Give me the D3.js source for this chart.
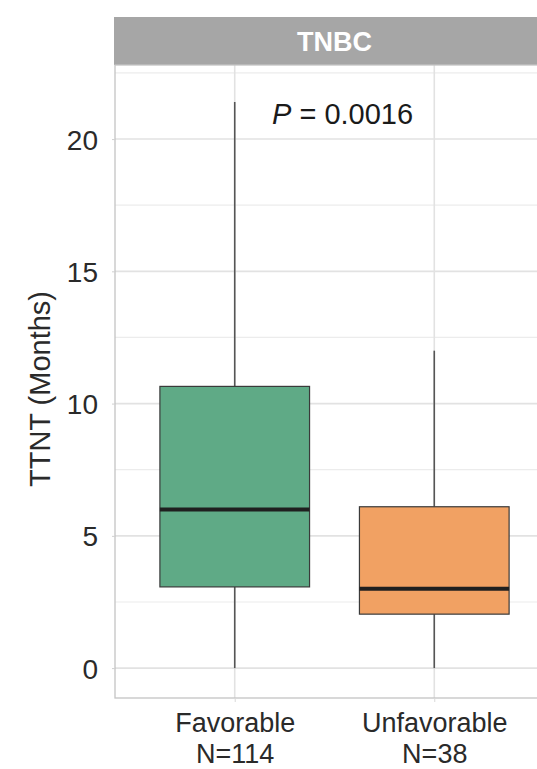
<!DOCTYPE html>
<html>
<head>
<meta charset="utf-8">
<script src="https://cdn.jsdelivr.net/npm/d3@7"></script>
<style>
  html, body { margin: 0; padding: 0; background: #fff; }
  svg { display: block; font-family: "Liberation Sans", Arial, sans-serif; }
</style>
</head>
<body>
<svg id="chart" width="537" height="769"></svg>
<script>
// Time to next treatment by response group (TNBC)
const categories = ["Favorable", "Unfavorable"];
const groupN = [114, 38];
const whiskerLow = [0, 0];
const quartile1 = [3.07, 2.04];
const medians = [6.0, 3.0];
const quartile3 = [10.65, 6.1];
const whiskerHigh = [21.4, 12.0];
const fillColors = ["#5faa86", "#f1a163"];
const yTicks = [0, 5, 10, 15, 20];
const yMinorTicks = [2.5, 7.5, 12.5, 17.5, 22.5];
const panelTitle = "TNBC";
const pValueText = "0.0016";

const svg = d3.select("#chart");
const panel = { left: 115, right: 554, top: 65, bottom: 698 };

const x = d3.scalePoint()
  .domain(categories)
  .range([panel.left, panel.right])
  .padding(0.6);
const boxWidth = x.step() * 0.75;

const y = d3.scaleLinear()
  .domain([-1.13, 22.8])
  .range([panel.bottom, panel.top]);

// strip header
svg.append("rect")
  .attr("x", panel.left - 1).attr("y", 17)
  .attr("width", panel.right - panel.left + 2).attr("height", panel.top - 17)
  .attr("fill", "#a6a6a6");
svg.append("text")
  .attr("x", (panel.left + panel.right) / 2).attr("y", 51)
  .attr("text-anchor", "middle")
  .attr("fill", "#ffffff")
  .attr("font-weight", "bold")
  .attr("font-size", 27)
  .text(panelTitle);

// panel gridlines
const grid = svg.append("g");
grid.selectAll("line.minor").data(yMinorTicks).join("line")
  .attr("x1", panel.left).attr("x2", panel.right)
  .attr("y1", d => y(d)).attr("y2", d => y(d))
  .attr("stroke", "#ececec").attr("stroke-width", 1.2);
grid.selectAll("line.major").data(yTicks).join("line")
  .attr("x1", panel.left).attr("x2", panel.right)
  .attr("y1", d => y(d)).attr("y2", d => y(d))
  .attr("stroke", "#e2e2e2").attr("stroke-width", 1.6);
grid.selectAll("line.vmajor").data(categories).join("line")
  .attr("x1", d => x(d)).attr("x2", d => x(d))
  .attr("y1", panel.top).attr("y2", panel.bottom)
  .attr("stroke", "#e2e2e2").attr("stroke-width", 1.6);

// boxes
const boxes = svg.append("g");
categories.forEach((c, i) => {
  const cx = x(c);
  boxes.append("line")
    .attr("x1", cx).attr("x2", cx)
    .attr("y1", y(whiskerHigh[i])).attr("y2", y(quartile3[i]))
    .attr("stroke", "#555").attr("stroke-width", 1.6);
  boxes.append("line")
    .attr("x1", cx).attr("x2", cx)
    .attr("y1", y(quartile1[i])).attr("y2", y(whiskerLow[i]))
    .attr("stroke", "#555").attr("stroke-width", 1.6);
  boxes.append("rect")
    .attr("x", cx - boxWidth / 2).attr("y", y(quartile3[i]))
    .attr("width", boxWidth).attr("height", y(quartile1[i]) - y(quartile3[i]))
    .attr("fill", fillColors[i])
    .attr("stroke", "#3a3a3a").attr("stroke-width", 1.2);
  boxes.append("line")
    .attr("x1", cx - boxWidth / 2).attr("x2", cx + boxWidth / 2)
    .attr("y1", y(medians[i])).attr("y2", y(medians[i]))
    .attr("stroke", "#1f1f1f").attr("stroke-width", 4);
});

// panel border
svg.append("rect")
  .attr("x", panel.left).attr("y", panel.top)
  .attr("width", panel.right - panel.left).attr("height", panel.bottom - panel.top)
  .attr("fill", "none").attr("stroke", "#c4c4c4").attr("stroke-width", 1.3);

// y axis
const yAxis = svg.append("g")
  .attr("transform", `translate(${panel.left},0)`)
  .call(d3.axisLeft(y).tickValues(yTicks).tickSize(3).tickPadding(14));
yAxis.select(".domain").remove();
yAxis.selectAll(".tick line").attr("stroke", "#d0d0d0");
yAxis.selectAll(".tick text")
  .attr("font-size", 28).attr("fill", "#2a2a2a")
  .attr("font-family", "Liberation Sans, Arial, sans-serif")
  .attr("dy", "0.36em");

// x axis: category name with group size underneath
const xAxis = svg.append("g")
  .attr("transform", `translate(0,${panel.bottom})`)
  .call(d3.axisBottom(x).tickSize(4).tickFormat(""));
xAxis.select(".domain").remove();
xAxis.selectAll(".tick line").attr("stroke", "#d8d8d8");
xAxis.selectAll(".tick").each(function (d, i) {
  const t = d3.select(this).append("text")
    .attr("text-anchor", "middle")
    .attr("fill", "#2a2a2a")
    .attr("font-size", 27)
    .attr("font-family", "Liberation Sans, Arial, sans-serif");
  t.append("tspan").attr("x", 0).attr("y", 34).text(d);
  t.append("tspan").attr("x", 0).attr("y", 65).text("N=" + groupN[i]);
});

// y axis title
svg.append("text")
  .attr("transform", `translate(50,389) rotate(-90)`)
  .attr("text-anchor", "middle")
  .attr("fill", "#2a2a2a")
  .attr("font-size", 29)
  .text("TTNT (Months)");

// p-value annotation
const pText = svg.append("text")
  .attr("x", 272).attr("y", 124)
  .attr("fill", "#1a1a1a")
  .attr("font-size", 29);
pText.append("tspan").attr("font-style", "italic").text("P");
pText.append("tspan").text(" = " + pValueText);
</script>
</body>
</html>
